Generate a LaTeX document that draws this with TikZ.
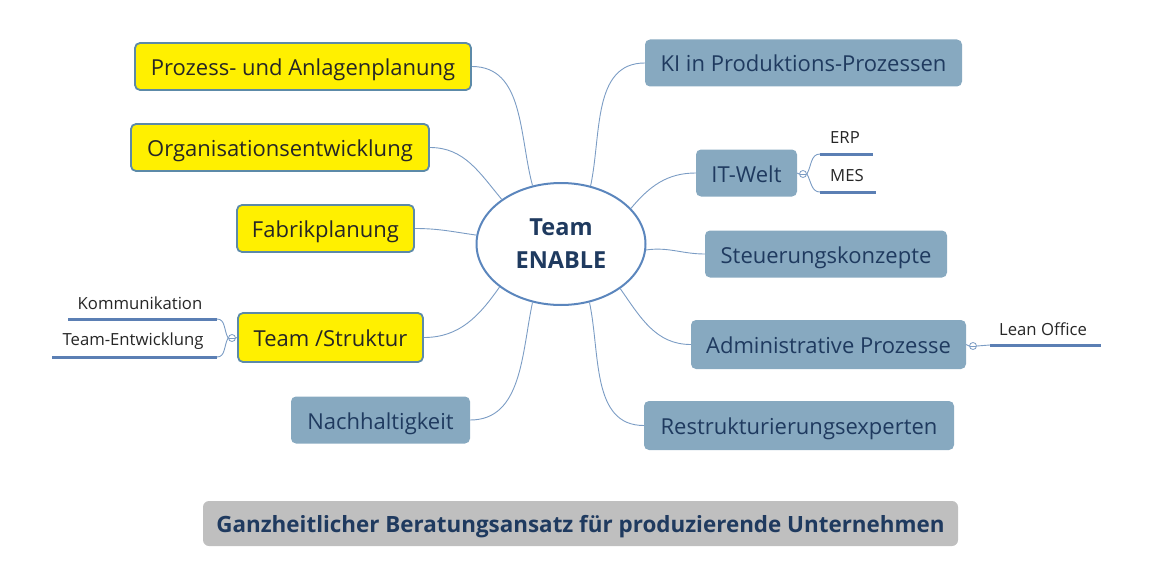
\documentclass[tikz,border=0pt]{standalone}
\usepackage{fontspec}
\setmainfont{Open Sans}
\usetikzlibrary{shapes.geometric}

\definecolor{yellowfill}{HTML}{FFF000}
\definecolor{boxedge}{HTML}{5C8AA8}
\definecolor{bluefill}{HTML}{87A9C0}
\definecolor{navy}{HTML}{1F3A5F}
\definecolor{linkblue}{HTML}{7B9CC4}
\definecolor{ellipseedge}{HTML}{5B86BD}
\definecolor{sublineblue}{HTML}{5B7FB4}
\definecolor{barfill}{HTML}{BFBFBF}

\tikzset{
  topic/.style={rounded corners=5pt, minimum height=47pt, inner sep=0pt, text height=22pt, text depth=4pt,
    font=\fontsize{22}{26}\selectfont},
  yellowbox/.style={topic, draw=boxedge, line width=1.8pt, fill=yellowfill, text=black!85},
  bluebox/.style={topic, fill=bluefill, text=navy},
  subtopic/.style={font=\fontsize{16.7}{20}\selectfont, text=black!85},
  link/.style={draw=linkblue, line width=0.9pt},
  subline/.style={draw=sublineblue, line width=3pt},
  toggle/.style={circle, draw=linkblue, fill=white, line width=0.8pt, minimum size=7pt, inner sep=0pt,
    path picture={\draw[linkblue, line width=0.6pt] (path picture bounding box.west) -- (path picture bounding box.east);}},
}

\begin{document}
\begin{tikzpicture}[x=1pt, y=1pt]
    \useasboundingbox (0,0) rectangle (1163,-578);

    % Centre
    \node [ellipse, draw=ellipseedge, line width=2pt, fill=white, minimum width=169, minimum height=122,
           align=center, font=\bfseries\fontsize{23.5}{33}\selectfont, text=navy] (team) at (561,-244) {Team\\ENABLE};

    % Topics left
    \node [yellowbox, minimum width=336] 		(prozess) 		at (303,-66.5)  {Prozess- und Anlagenplanung};
    \node [yellowbox, minimum width=298] 		(organisation) 	at (280,-147.5) {Organisationsentwicklung};
    \node [yellowbox, minimum width=177] 		(fabrik) 		at (325.5,-228.5) {Fabrikplanung};
    \node [yellowbox, minimum width=185, minimum height=49] (struktur) at (330.5,-337.5) {Team /Struktur};
    \node [bluebox, minimum width=179] 			(nachhaltigkeit) at (380.5,-420) {Nachhaltigkeit};

    % Topics right
    \node [bluebox, minimum width=317] 			(ki) 			at (803.5,-63)  {KI in Produktions-Prozessen};
    \node [bluebox, minimum width=101] 			(itwelt) 		at (746.5,-173) {IT-Welt};
    \node [bluebox, minimum width=242] 			(steuerung) 	at (826,-254)   {Steuerungskonzepte};
    \node [bluebox, minimum width=275, minimum height=49] (admin) at (828.5,-344.5) {Administrative Prozesse};
    \node [bluebox, minimum width=310, minimum height=49] (restruk) at (799,-425.5) {Restrukturierungsexperten};

    % Bottom line
    \node [fill=barfill, rounded corners=6pt, minimum width=755, minimum height=45, text height=22pt, text depth=4pt,
           font=\bfseries\fontsize{22.4}{26}\selectfont, text=navy] (ansatz) at (580.5,-523.5)
           {Ganzheitlicher Beratungsansatz für produzierende Unternehmen};

    % Subtopics
    \node [toggle] (ittoggle) 		at (803,-174) {};
    \node [toggle] (admintoggle) 	at (973,-346) {};
    \node [toggle] (strukturtoggle) at (232,-338) {};
    \coordinate (erpL)  at (820,-154);  \coordinate (erpR)  at (873,-154);
    \coordinate (mesL)  at (820,-192);  \coordinate (mesR)  at (876,-192);
    \coordinate (leanL) at (990,-345);  \coordinate (leanR) at (1101,-345);
    \coordinate (kommR) at (217,-319);  \coordinate (kommL) at (68,-319);
    \coordinate (entwR) at (217,-357);  \coordinate (entwL) at (52,-357);
    \node [subtopic] (erp)  at (845,-138)  {ERP};
    \node [subtopic] (mes)  at (847,-176)  {MES};
    \node [subtopic] (lean) at (1043,-329) {Lean Office};
    \node [subtopic] (komm) at (140,-303)  {Kommunikation};
    \node [subtopic] (entw) at (133,-341)  {Team-Entwicklung};

    % Paths
    \path [link] (prozess.east) 		to [out=0, in=105] 	 (team.116);
    \path [link] (organisation.east) 	to [out=0, in=130] 	 (team.143);
    \path [link] (fabrik.east) 			to [out=0, in=172] 	 (team.174);
    \path [link] (struktur.east) 		to [out=0, in=235] 	 (team.215);
    \path [link] (nachhaltigkeit.east) 	to [out=0, in=258] 	 (team.244);
    \path [link] (ki.west) 				to [out=180, in=78]  (team.63);
    \path [link] (itwelt.west) 			to [out=180, in=50]  (team.27);
    \path [link] (steuerung.west) 		to [out=180, in=8] 	 (team.356);
    \path [link] (admin.west) 			to [out=180, in=305] (team.323);
    \path [link] (restruk.west) 		to [out=180, in=282] (team.296);

    \path [link] (itwelt.east) -- (ittoggle.west);
    \path [link] (ittoggle.east) to [out=60, in=180]  (erpL);
    \path [link] (ittoggle.east) to [out=-60, in=180] (mesL);
    \path [link] (admin.east) -- (admintoggle.west);
    \path [link] (admintoggle.east) -- (leanL);
    \path [link] (struktur.west) -- (strukturtoggle.east);
    \path [link] (strukturtoggle.west) to [out=120, in=0]  (kommR);
    \path [link] (strukturtoggle.west) to [out=240, in=0]  (entwR);

    \path [subline] (erpL) -- (erpR);
    \path [subline] (mesL) -- (mesR);
    \path [subline] (leanL) -- (leanR);
    \path [subline] (kommR) -- (kommL);
    \path [subline] (entwR) -- (entwL);
\end{tikzpicture}
\end{document}
